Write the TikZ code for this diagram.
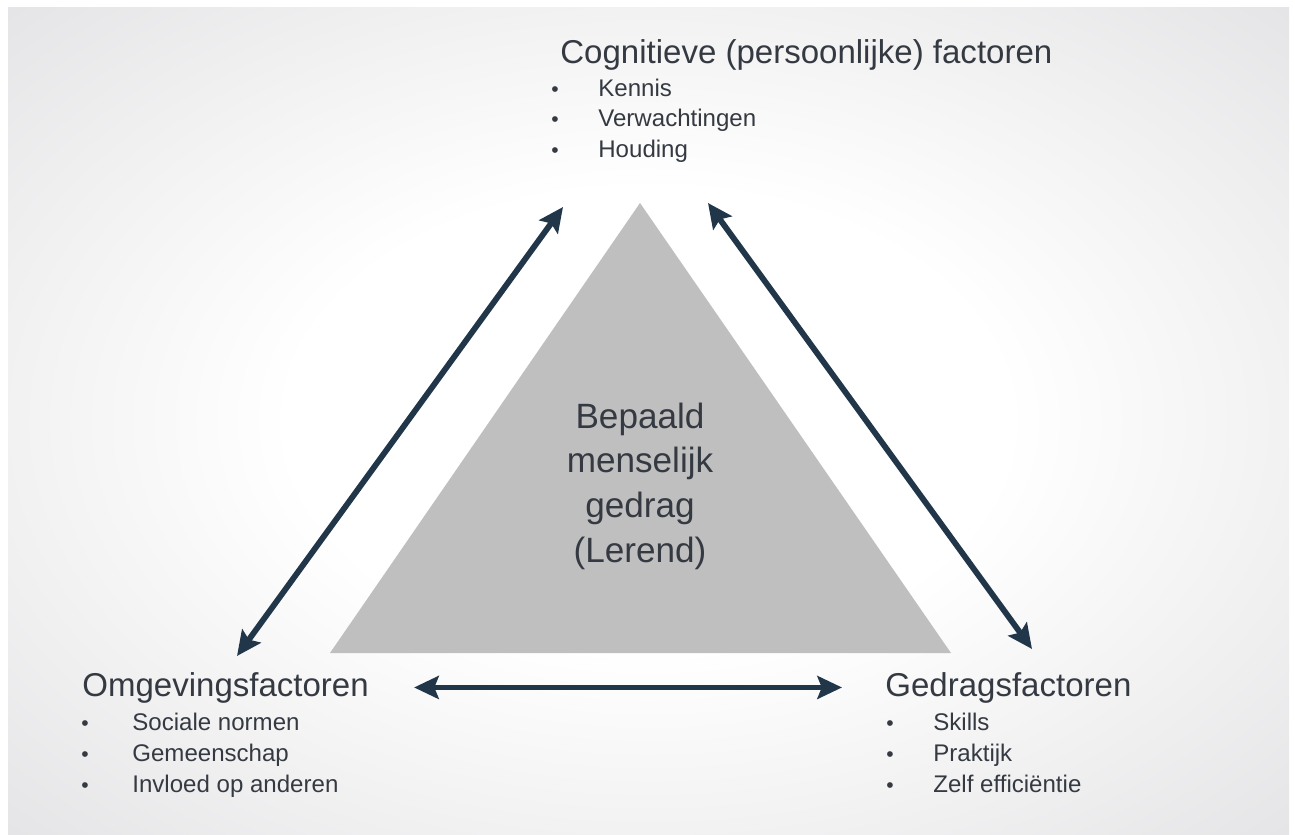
\documentclass[tikz,border=0pt]{standalone}
\usepackage{fontspec}
\setmainfont{Liberation Sans}
\usetikzlibrary{arrows.meta}

\definecolor{bggray}{HTML}{E4E4E6}
\definecolor{trigray}{HTML}{BFBFBF}
\definecolor{arrowblue}{HTML}{22364A}
\definecolor{textgray}{HTML}{353A42}

\pgfdeclareradialshading{bgglow}{\pgfpoint{0bp}{0bp}}{color(0bp)=(white); color(14bp)=(white); color(36bp)=(bggray); color(50bp)=(bggray)}

\tikzset{
  head/.style={anchor=base west, inner sep=0, text=textgray, font=\fontsize{18.8}{22}\selectfont},
  item/.style={anchor=base west, inner sep=0, text=textgray, font=\fontsize{13.7}{16}\selectfont},
  dot/.style={anchor=base west, inner sep=0, text=textgray, font=\fontsize{12}{14}\selectfont},
  mid/.style={anchor=base, inner sep=0, text=textgray, font=\fontsize{20}{24}\selectfont},
  link/.style={arrowblue, line width=3.3pt, {Stealth[length=14pt,width=13pt,inset=2.5pt]}-{Stealth[length=14pt,width=13pt,inset=2.5pt]}}
}

\begin{document}
\begin{tikzpicture}[x=0.02cm,y=-0.02cm]
\useasboundingbox (0,0) rectangle (1295,835);
%\draw[very thin,color=lightgray] (0,0) grid[step=100] (1295,835);
\fill[white] (0,0) rectangle (1295,835);
\shade[shading=bgglow] (8,7) rectangle (1289,835);

% triangle
\fill[trigray] (640,203) -- (951,653) -- (330,653) -- cycle;

\foreach \t [count=\i] in {Bepaald, menselijk, gedrag, {(Lerend)}}
  \node[mid] (gedrag\i) at (640,{428+44.7*(\i-1)}) {\t};

% Cognitieve factoren
\node[head] (cog) at (560,63) {Cognitieve (persoonlijke) factoren};
\foreach \t [count=\i] in {Kennis, Verwachtingen, Houding}{
  \node[dot] (cogdot\i) at (551,{96+30.5*(\i-1)}) {•};
  \node[item] (cogitem\i) at (598,{96+30.5*(\i-1)}) {\t};
}

% Omgevingsfactoren
\node[head] (omg) at (82,696) {Omgevingsfactoren};
\foreach \t [count=\i] in {Sociale normen, Gemeenschap, Invloed op anderen}{
  \node[dot] (omgdot\i) at (81,{730+31*(\i-1)}) {•};
  \node[item] (omgitem\i) at (132,{730+31*(\i-1)}) {\t};
}

% Gedragsfactoren
\node[head] (ged) at (885,696) {Gedragsfactoren};
\foreach \t [count=\i] in {Skills, Praktijk, Zelf efficiëntie}{
  \node[dot] (geddot\i) at (886,{730+31*(\i-1)}) {•};
  \node[item] (geditem\i) at (933,{730+31*(\i-1)}) {\t};
}

% arrow ends
\coordinate (cogSW) at (563,207);
\coordinate (cogSE) at (708,203);
\coordinate (omgN) at (237,656);
\coordinate (gedN) at (1032,649);

\draw[link] (omgN) -- (cogSW);
\draw[link] (gedN) -- (cogSE);
\draw[link, shorten <=0.9cm, shorten >=0.86cm] (omg.east) -- (ged.west);

\end{tikzpicture}
\end{document}
